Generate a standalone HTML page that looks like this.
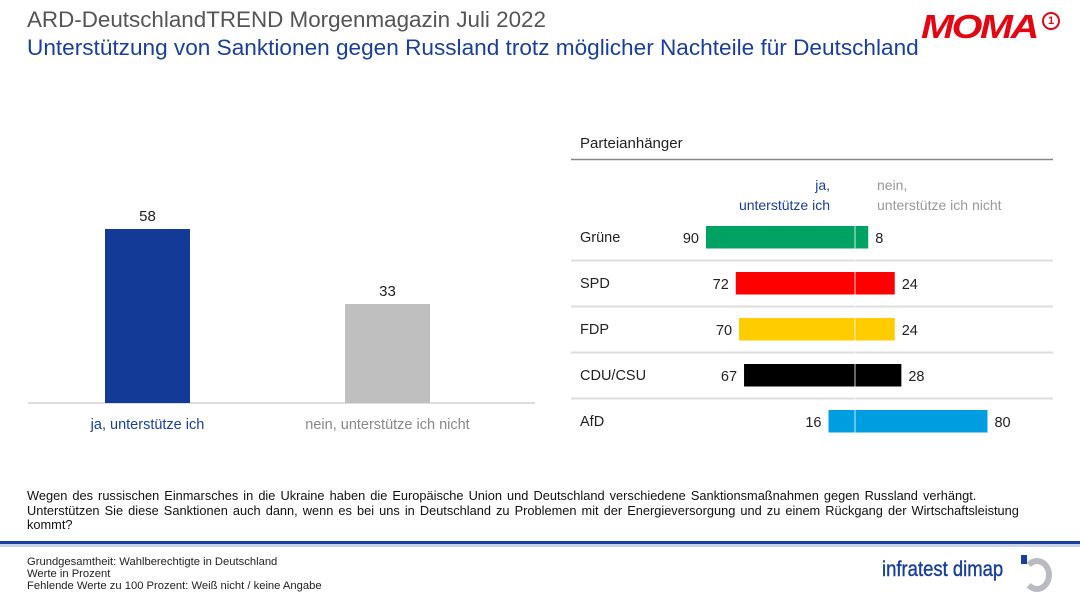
<!DOCTYPE html>
<html><head><meta charset="utf-8"><style>
body{margin:0;width:1080px;height:606px;background:#fff;font-family:"Liberation Sans",Arial,sans-serif;overflow:hidden;position:relative}
.a{position:absolute;white-space:nowrap}
</style></head><body>
<div class="a" style="left:27px;top:7px;font-size:22.4px;color:#555">ARD-DeutschlandTREND Morgenmagazin Juli 2022</div>
<div class="a" style="left:27px;top:35px;font-size:22.6px;color:#1a3f9a">Unterstützung von Sanktionen gegen Russland trotz möglicher Nachteile für Deutschland</div>
<div class="a" style="left:921px;top:8px;font-size:33px;font-weight:bold;font-style:italic;color:#e30613;letter-spacing:-2px;transform:scaleX(1.2);transform-origin:left">MOMA</div>
<div class="a" style="left:1042px;top:12px;width:14px;height:14px;border:2px solid #e30613;border-radius:50%;font-size:11px;font-weight:bold;color:#e30613;text-align:center;line-height:14px">1</div>
<svg class="a" style="left:0;top:0" width="1080" height="606" id="chart"></svg>
<div class="a" style="left:27px;top:489px;font-size:12.8px;line-height:14.5px;color:#111;white-space:normal;width:1020px;word-spacing:1.5px">Wegen des russischen Einmarsches in die Ukraine haben die Europäische Union und Deutschland verschiedene Sanktionsmaßnahmen gegen Russland verhängt.<br>Unterstützen Sie diese Sanktionen auch dann, wenn es bei uns in Deutschland zu Problemen mit der Energieversorgung und zu einem Rückgang der Wirtschaftsleistung kommt?</div>
<div class="a" style="left:0;top:541px;width:1080px;height:3px;background:#1a3f9a"></div>
<div class="a" style="left:0;top:544px;width:1080px;height:3px;background:#c9d3e3"></div>
<div class="a" style="left:27px;top:556px;font-size:11px;line-height:12px;color:#222;transform:scaleX(1.02);transform-origin:left">Grundgesamtheit: Wahlberechtigte in Deutschland<br>Werte in Prozent<br>Fehlende Werte zu 100 Prozent: Weiß nicht / keine Angabe</div>
<div class="a" style="left:882px;top:558px;font-size:21px;color:#1a3f9a;transform:scaleX(0.88);transform-origin:left;-webkit-text-stroke:0.4px #1a3f9a">infratest dimap</div>
<div class="a" style="left:1022px;top:558px;width:18px;height:22px;border:6px solid #b8bcc2;border-left-color:transparent;border-radius:50%"></div>
<div class="a" style="left:1021px;top:555px;width:6px;height:9px;background:#1a3f9a"></div>
<script>
const mainCats=["ja, unterstütze ich","nein, unterstütze ich nicht"];
const mainVals=[58,33];
const mainColors=["#123a96","#bfbfbf"];
const parties=["Grüne","SPD","FDP","CDU/CSU","AfD"];
const yesVals=[90,72,70,67,16];
const noVals=[8,24,24,28,80];
const partyColors=["#00a263","#ff0000","#ffcc00","#000000","#009ee0"];
const svg=document.getElementById('chart');
const NS="http://www.w3.org/2000/svg";
function mk(t,a,txt){const e=document.createElementNS(NS,t);for(const k in a)e.setAttribute(k,a[k]);if(txt!=null)e.textContent=txt;svg.appendChild(e);return e;}
const base=403, ps=3.0;
const yM=v=>base-v*ps;
const xM=i=>105+i*240;
let ax=mk('line',{x1:28,x2:535,y1:base,y2:base,stroke:'#bbb','stroke-width':1});


mainVals.forEach((v,i)=>{
  let r=mk('rect',{x:xM(i),y:yM(v),width:85,height:base-yM(v),fill:mainColors[i]});
  
  
  let t=mk('text',{x:xM(i)+42.5,y:yM(v)-8,'text-anchor':'middle','font-size':15,fill:'#222'},v);
  
  
  let c=mk('text',{x:xM(i)+42.5,y:429,'text-anchor':'middle','font-size':14.5,fill:i==0?'#1a3f9a':'#888'},mainCats[i]);
  
  
});
const cx=855, us=1.656;
const xR=v=>cx+v*us, xL=v=>cx-v*us;
const yR=i=>226+i*46;
let h=mk('text',{x:580,y:148,'font-size':15,fill:'#222'},'Parteianhänger');


let hl=mk('line',{x1:571,x2:1053,y1:159.5,y2:159.5,stroke:'#888','stroke-width':1.5});


[['ja,',830,190,'end','#1a3f9a'],['unterstütze ich',830,210,'end','#1a3f9a'],['nein,',877,190,'start','#999'],['unterstütze ich nicht',877,210,'start','#999']].forEach(a=>{
  let t=mk('text',{x:a[1],y:a[2],'text-anchor':a[3],'font-size':14,fill:a[4]},a[0]);
  
  
});
parties.forEach((p,i)=>{
  const y=yR(i);
  if(i<parties.length-1){let s=mk('line',{x1:571,x2:1053,y1:y+34.5,y2:y+34.5,stroke:'#ddd','stroke-width':2});
  
  }
  let l=mk('text',{x:580,y:y+16,'font-size':14.5,fill:'#222'},p);
  
  
  let b1=mk('rect',{x:xL(yesVals[i]),y:y,width:yesVals[i]*us,height:22.5,fill:partyColors[i]});
  
  
  let b2=mk('rect',{x:cx,y:y,width:noVals[i]*us,height:22.5,fill:partyColors[i]});
  
  
  let v1=mk('text',{x:xL(yesVals[i])-7,y:y+17,'text-anchor':'end','font-size':14.5,fill:'#222'},yesVals[i]);
  
  
  let v2=mk('text',{x:xR(noVals[i])+7,y:y+17,'font-size':14.5,fill:'#222'},noVals[i]);
  
  
});
let cl=mk('line',{x1:cx,x2:cx,y1:222,y2:436,stroke:'#fff','stroke-width':1,'stroke-opacity':0.8});


</script>
</body></html>
